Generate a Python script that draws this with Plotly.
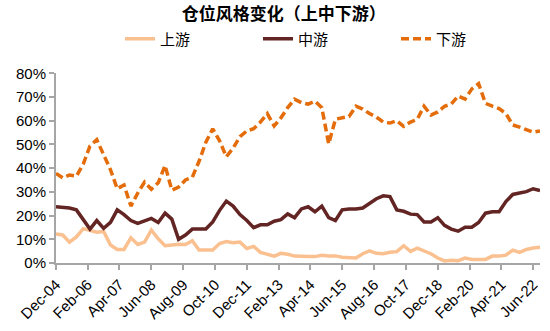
import pandas as pd
import plotly.graph_objects as go

# Quarterly dates (quarter-end), Dec-2004 .. Sep-2022
dates = pd.date_range("2004-12-31", periods=72, freq="QE")

upstream = [12.2, 11.8, 8.8, 11.0, 14.5, 13.9, 13.0, 13.3, 7.6, 5.7,
            5.7, 10.6, 7.8, 8.8, 13.9, 10.2, 7.3, 7.6, 7.9, 7.8,
            9.4, 5.5, 5.5, 5.5, 8.2, 9.0, 8.5, 8.8, 6.1, 7.0,
            4.5, 3.7, 2.9, 4.1, 3.7, 2.9, 2.7, 2.7, 2.7, 3.3,
            3.0, 3.0, 2.4, 2.4, 2.1, 3.9, 5.1, 4.1, 3.9, 4.5,
            4.8, 7.3, 4.9, 6.3, 5.1, 3.9, 2.1, 0.9, 1.2, 1.0,
            2.1, 1.5, 1.5, 1.5, 2.9, 2.9, 3.3, 5.4, 4.5, 5.7,
            6.3, 6.7]

midstream = [23.7, 23.4, 23.2, 22.4, 18.5, 14.3, 17.9, 14.6, 17.1, 22.4,
             20.4, 17.9, 16.7, 17.9, 18.8, 17.1, 21.0, 18.5, 10.0, 11.8,
             14.3, 14.3, 14.3, 17.3, 22.2, 26.1, 24.0, 20.4, 17.9, 14.9,
             16.1, 16.1, 17.6, 18.3, 20.7, 19.1, 22.8, 23.7, 21.6, 24.0,
             19.1, 17.9, 22.4, 22.8, 22.8, 23.2, 25.2, 27.1, 28.3, 28.0,
             22.4, 21.8, 20.6, 20.4, 17.3, 17.3, 19.1, 15.9, 14.3, 13.4,
             15.1, 15.1, 17.1, 21.0, 21.6, 21.6, 25.9, 28.9, 29.5, 30.1,
             31.3, 30.5]

downstream = [37.8, 35.9, 37.1, 36.6, 41.7, 49.3, 52.0, 45.4, 39.3, 31.3,
              32.9, 24.0, 29.5, 34.1, 31.1, 33.8, 41.1, 30.7, 32.0, 35.0,
              36.2, 42.9, 50.9, 56.6, 51.5, 44.8, 48.4, 53.3, 55.7, 56.6,
              59.4, 63.0, 57.8, 61.2, 65.5, 69.1, 67.6, 67.0, 68.2, 65.5,
              50.2, 60.6, 61.2, 61.8, 66.1, 64.9, 63.0, 61.5, 59.4, 59.0,
              60.0, 57.6, 59.4, 60.6, 66.1, 62.4, 63.7, 66.1, 67.0, 70.4,
              69.1, 73.4, 75.6, 67.3, 66.1, 65.1, 63.0, 58.2, 57.3, 56.3,
              55.1, 55.7]

tick_dates = pd.date_range("2004-12-31", periods=16, freq="14ME")
tick_labels = ["Dec-04", "Feb-06", "Apr-07", "Jun-08", "Aug-09", "Oct-10",
               "Dec-11", "Feb-13", "Apr-14", "Jun-15", "Aug-16", "Oct-17",
               "Dec-18", "Feb-20", "Apr-21", "Jun-22"]

y_ticks = [0, 10, 20, 30, 40, 50, 60, 70, 80]
y_labels = [f"{v}%" for v in y_ticks]

FONT = "Liberation Sans, Arial, Noto Sans CJK SC, sans-serif"

fig = go.Figure()
fig.add_trace(go.Scatter(x=dates, y=upstream, name="上游", mode="lines",
                         line=dict(color="#FAC090", width=3.5)))
fig.add_trace(go.Scatter(x=dates, y=midstream, name="中游", mode="lines",
                         line=dict(color="#632523", width=3.5)))
fig.add_trace(go.Scatter(x=dates, y=downstream, name="下游", mode="lines",
                         line=dict(color="#E46C0A", width=3.5, dash="8px,4px")))

fig.update_layout(
    width=550, height=331,
    margin=dict(l=56, r=9, t=48, b=65),
    paper_bgcolor="white", plot_bgcolor="white",
    font=dict(family=FONT, size=15, color="#000000"),
    title=dict(text="<b>仓位风格变化（上中下游）</b>", x=0.516, xref="container",
               xanchor="center", y=1 - 14 / 331, yref="container", yanchor="middle",
               font=dict(size=17, family="Noto Sans CJK SC, sans-serif", color="#000")),
    legend=dict(orientation="h", xref="container", yref="container",
                x=120 / 550, y=1 - 39 / 331, xanchor="left", yanchor="middle",
                entrywidth=93, entrywidthmode="pixels",
                font=dict(size=15, family="Noto Sans CJK SC, sans-serif"),
                bgcolor="rgba(0,0,0,0)", tracegroupgap=0),
    showlegend=True,
)

fig.update_xaxes(
    type="date", range=[dates[0], dates[-1]],
    tickmode="array", tickvals=tick_dates, ticktext=tick_labels,
    tickangle=-45, ticks="outside", ticklen=5, tickwidth=1.5, tickcolor="#A6A6A6",
    showline=True, linecolor="#A6A6A6", linewidth=2, showgrid=False, zeroline=False,
    tickfont=dict(size=15, family=FONT),
)
fig.update_yaxes(
    range=[0, 80], tickmode="array", tickvals=y_ticks, ticktext=y_labels,
    ticks="outside", ticklen=5, tickwidth=1.5, tickcolor="#A6A6A6",
    showline=True, linecolor="#A6A6A6", linewidth=2, showgrid=False, zeroline=False,
    tickfont=dict(size=15, family=FONT),
)

fig.write_html("out.html")
